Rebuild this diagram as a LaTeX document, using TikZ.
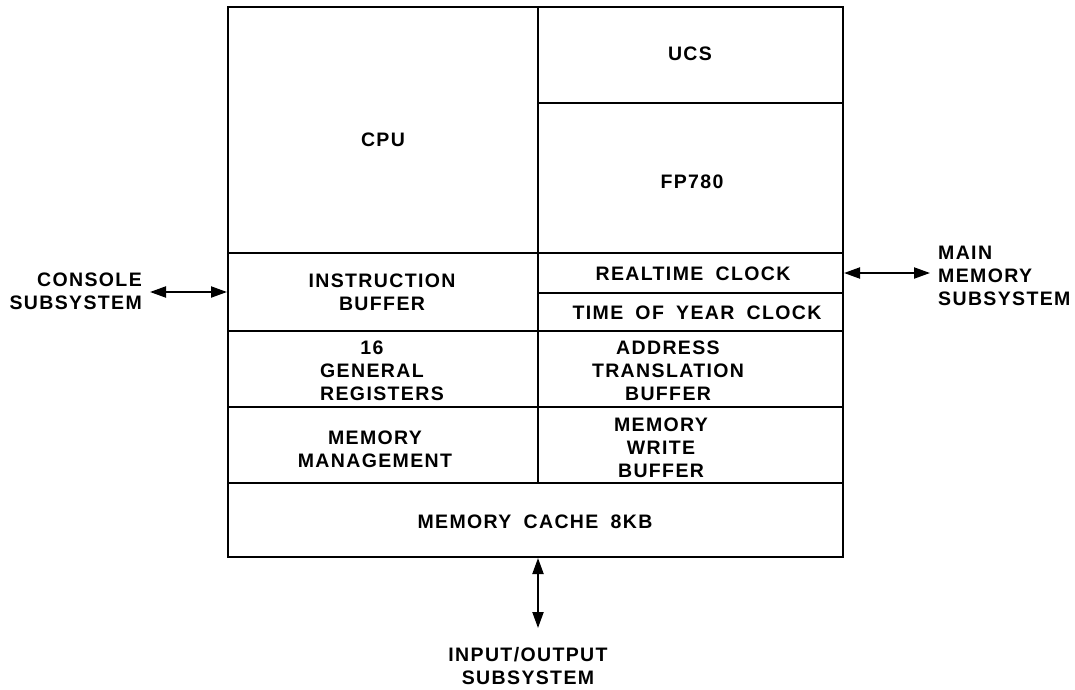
\documentclass[tikz,border=0pt]{standalone}
\usepackage{fontspec}
\usepackage{calc}
\setmainfont{Liberation Sans}[LetterSpace=7,WordSpace=1.8]
\usetikzlibrary{arrows.meta,fit}
\tikzset{
  cellbox/.style={draw, line width=2pt, inner sep=0pt, fit={#1}},
  lbl/.style={inner sep=0pt, font=\bfseries\fontsize{19.5}{23}\selectfont, align=center},
  lbll/.style={lbl, align=left},
  lblr/.style={lbl, align=right},
  tip/.tip={Triangle[length=16pt,width=11pt]},
  link/.style={line width=2pt, tip-tip}
}
\begin{document}
\begin{tikzpicture}[x=1pt,y=-1pt]
\useasboundingbox (0,0) rectangle (1075,689);
% cells
\node[cellbox={(228,7) (538,253)}] (cpu) {};
\node[cellbox={(538,7) (843,103)}] (ucs) {};
\node[cellbox={(538,103) (843,253)}] (fp) {};
\node[cellbox={(228,253) (538,331)}] (ib) {};
\node[cellbox={(538,253) (843,293)}] (rtc) {};
\node[cellbox={(538,293) (843,331)}] (toy) {};
\node[cellbox={(228,331) (538,407)}] (gr) {};
\node[cellbox={(538,331) (843,407)}] (atb) {};
\node[cellbox={(228,407) (538,483)}] (mm) {};
\node[cellbox={(538,407) (843,483)}] (mwb) {};
\node[cellbox={(228,483) (843,557)}] (cache) {};
% texts
\node[lbl] (tcpu) at (383,140) {CPU};
\node[lbl] (tucs) at (690,54) {UCS};
\node[lbl] (tfp) at (692,182) {FP780};
\node[lbl] (tib) at (382,292) {INSTRUCTION\\BUFFER};
\node[lbl] (trtc) at (693,274) {REALTIME CLOCK};
\node[lbl] (ttoy) at (697,313) {TIME OF YEAR CLOCK};
\node[lbll] (tgr) at (382,371) {\makebox[\widthof{\bfseries GENERAL}]{16}\\GENERAL\\REGISTERS};
\node[lbl] (tatb) at (668,371) {ADDRESS\\TRANSLATION\\BUFFER};
\node[lbl] (tmm) at (375,449) {MEMORY\\MANAGEMENT};
\node[lbl] (tmwb) at (661,448) {MEMORY\\WRITE\\BUFFER};
\node[lbl] (tcache) at (535,522) {MEMORY CACHE 8KB};
% external
\node[lblr, anchor=east] (console) at (142,291) {CONSOLE\\SUBSYSTEM};
\node[lbll, anchor=west] (mainmem) at (938,276) {MAIN\\MEMORY\\SUBSYSTEM};
\node[lbl] (io) at (528,666) {INPUT/OUTPUT\\SUBSYSTEM};
\coordinate (contip) at (150,292);
\coordinate (memtip) at (930,273);
\coordinate (iotip) at (538,628);
% connectors
\draw[link] (contip) -- (ib.west);
\draw[link] (rtc.east) -- (memtip);
\draw[link] (cache.south -| iotip) -- (iotip);
\end{tikzpicture}
\end{document}
